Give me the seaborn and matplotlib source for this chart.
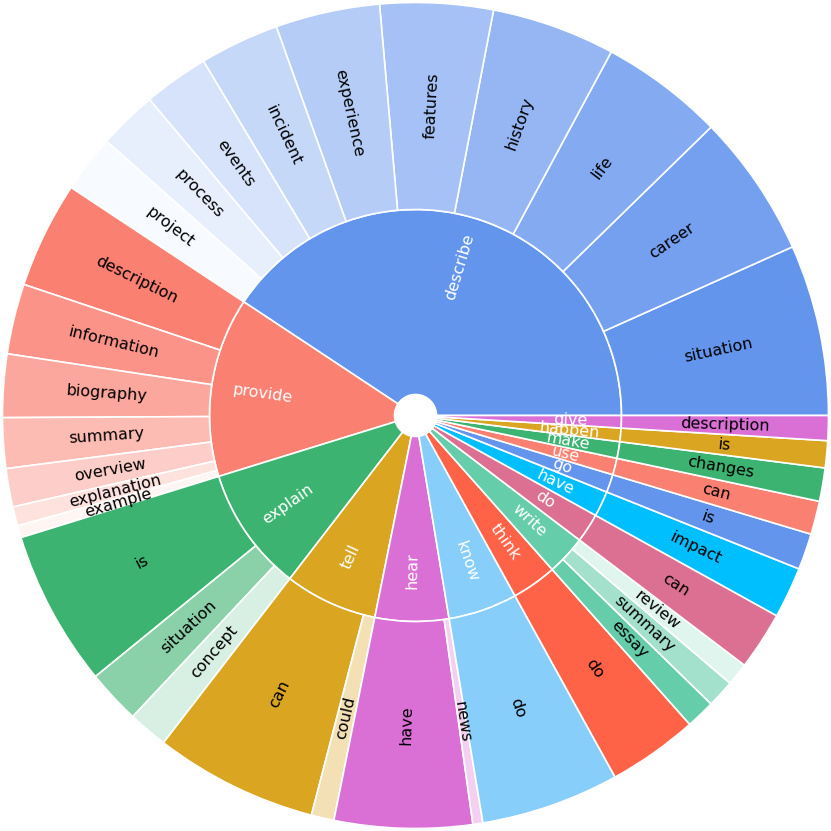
import numpy as np
import pandas as pd
import matplotlib
matplotlib.use('Agg')
import matplotlib.pyplot as plt
import seaborn as sns

# inner ring: verbs (order as drawn, counter-clockwise from 3 o'clock)
verbs = ['describe', 'provide', 'explain', 'tell', 'hear', 'know', 'think',
         'write', 'do', 'have', 'go', 'use', 'make', 'happen', 'give']
verb_colors = ['#6495ED', '#FA8072', '#3CB371', '#DAA520', '#DA70D6',
               '#87CEFA', '#FF6347', '#66CDAA', '#DB7093', '#00BFFF',
               '#6495ED', '#FA8072', '#3CB371', '#DAA520', '#DA70D6']

# outer ring: nouns under each verb
noun_parent = (['describe'] * 10 + ['provide'] * 7 + ['explain'] * 3 +
               ['tell'] * 2 + ['hear'] * 2 + ['know', 'think'] +
               ['write'] * 3 + ['do', 'have', 'go', 'use', 'make', 'happen', 'give'])
nouns = ['situation', 'career', 'life', 'history', 'features', 'experience',
         'incident', 'events', 'process', 'project',
         'description', 'information', 'biography', 'summary', 'overview',
         'explanation', 'example',
         'is', 'situation', 'concept',
         'can', 'could',
         'have', 'news',
         'do', 'do',
         'essay', 'summary', 'review',
         'can', 'impact', 'is', 'can', 'changes', 'is', 'description']
noun_values = [24.1, 20.2, 17.4, 17.4, 15.9, 14.7, 11.2, 9.2, 8.3, 8.1,
               15.0, 9.9, 8.9, 7.1, 5.4, 2.7, 1.7,
               22.0, 7.6, 5.6,
               23.0, 3.2,
               19.4, 1.4,
               19.5, 12.7,
               4.1, 3.9, 3.2,
               8.2, 7.2, 5.1, 4.7, 4.7, 3.8, 3.5]

df = pd.DataFrame({'verb': noun_parent, 'noun': nouns, 'value': noun_values})
verb_df = df.groupby('verb', sort=False)['value'].sum().reindex(verbs).reset_index()

# children fade from the parent colour toward white
noun_colors = []
for v, c in zip(verbs, verb_colors):
    n = (df['verb'] == v).sum()
    pal = sns.blend_palette([c, 'white'], 2 * n)
    noun_colors += [pal[2 * i] for i in range(n)]

sns.set_style('white')
plt.rcParams['font.family'] = ['DejaVu Sans']

fig = plt.figure(figsize=(8.31, 8.31), dpi=100)
ax = fig.add_axes([0, 0, 1, 1])

R_hole, R_mid, R_out = 21, 206, 413
edge = dict(edgecolor='white', linewidth=1.2)

inner, _ = ax.pie(verb_df['value'], radius=R_mid, startangle=0, counterclock=True,
                  colors=verb_colors, wedgeprops=dict(width=R_mid - R_hole, **edge))
outer, _ = ax.pie(df['value'], radius=R_out, startangle=0, counterclock=True,
                  colors=noun_colors, wedgeprops=dict(width=R_out - R_mid, **edge))


def put_labels(wedges, labels, r, color):
    for w, lab in zip(wedges, labels):
        mid = (w.theta1 + w.theta2) / 2 % 360
        x, y = r * np.cos(np.radians(mid)), r * np.sin(np.radians(mid))
        if 90 < mid < 270:
            rot = mid - 180
        elif mid >= 270:
            rot = mid - 360
        else:
            rot = mid
        ax.text(x, y, lab, rotation=rot, rotation_mode='anchor',
                ha='center', va='center', color=color, fontsize=11.5)


put_labels(inner, verb_df['verb'], 155, 'white')
put_labels(outer, df['noun'], 310, 'black')

ax.set_xlim(-415.5, 415.5)
ax.set_ylim(-415.5, 415.5)
ax.set_aspect('equal')
ax.axis('off')

plt.savefig('out.png', dpi=100, facecolor='white')
